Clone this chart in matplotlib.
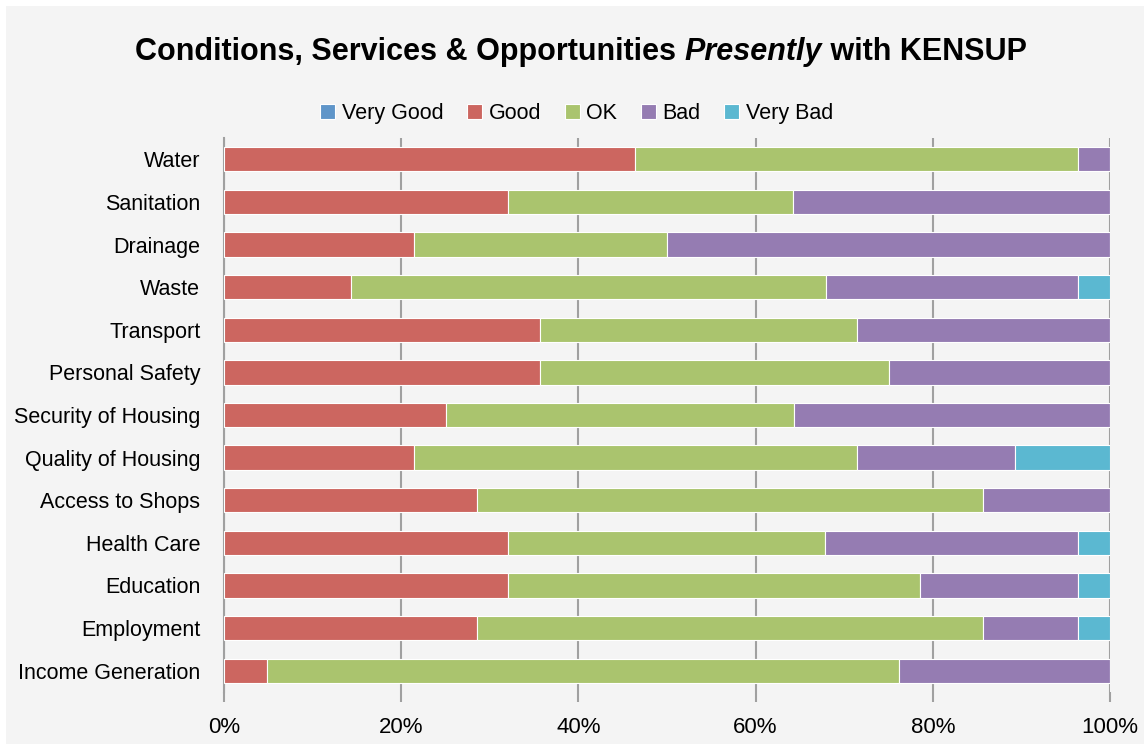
import matplotlib.pyplot as plt
from matplotlib.patches import Rectangle
import numpy as np

plt.rcParams['font.family'] = ['Liberation Sans Narrow', 'Liberation Sans', 'DejaVu Sans']

# Categories (top to bottom) and response shares in percent
categories = ["Water", "Sanitation", "Drainage", "Waste", "Transport", "Personal Safety",
              "Security of Housing", "Quality of Housing", "Access to Shops",
              "Health Care", "Education", "Employment", "Income Generation"]

very_good = [0, 0, 0, 0, 0, 0, 0, 0, 0, 0, 0, 0, 0]
good = [46.4, 32.1, 21.4, 14.3, 35.7, 35.7, 25.0, 21.4, 28.6, 32.1, 32.1, 28.6, 4.8]
ok = [50.0, 32.1, 28.6, 53.6, 35.7, 39.3, 39.3, 50.0, 57.1, 35.7, 46.4, 57.1, 71.4]
bad = [3.6, 35.8, 50.0, 28.5, 28.6, 25.0, 35.7, 17.9, 14.3, 28.6, 17.9, 10.7, 23.8]
very_bad = [0, 0, 0, 3.6, 0, 0, 0, 10.7, 0, 3.6, 3.6, 3.6, 0]

series = [("Very Good", very_good, "#5F95C9"),
          ("Good", good, "#CC6660"),
          ("OK", ok, "#AAC46E"),
          ("Bad", bad, "#957CB2"),
          ("Very Bad", very_bad, "#5BB8D1")]

bg = "#F4F4F4"
fig = plt.figure(figsize=(11.44, 7.44), dpi=100, facecolor="white")
# grey chart area with a thin white margin on the top and left
fig.patches.append(Rectangle((6 / 1144, 0), 1, 1 - 6 / 744, transform=fig.transFigure,
                             facecolor=bg, edgecolor="none", zorder=-10))
ax = fig.add_axes([0.1958, 0.0699, 0.7745, 0.7446], facecolor=bg)

y = np.arange(len(categories))
left = np.zeros(len(categories))
for name, vals, col in series:
    vals = np.array(vals, dtype=float)
    ax.barh(y, vals, left=left, height=0.57, color=col, edgecolor="white",
            linewidth=0.8, label=name, zorder=3)
    left += vals

ax.set_xlim(0, 100)
ax.set_ylim(len(categories) - 0.5, -0.5)
ax.set_yticks(y)
ax.set_yticklabels(categories, fontsize=15.5)
ax.set_xticks(np.arange(0, 101, 20))
ax.set_xticklabels([f"{v}%" for v in range(0, 101, 20)], fontsize=16)
ax.tick_params(axis="y", length=0, pad=17)
ax.tick_params(axis="x", length=7, color="#A0A0A0", width=1.5, pad=11)
ax.grid(axis="x", color="#A0A0A0", linewidth=1.5, zorder=0)
for s in ["top", "right", "bottom"]:
    ax.spines[s].set_visible(False)
ax.spines["left"].set_color("#A0A0A0")
ax.spines["left"].set_linewidth(1.5)

# Title with an italic word, built from three pieces centred as a group
fig.canvas.draw()
renderer = fig.canvas.get_renderer()
parts = [("Conditions, Services & Opportunities ", "normal"),
         ("Presently", "italic"),
         (" with KENSUP", "normal")]
texts = []
for txt, style in parts:
    t = fig.text(0, 0.930, txt, fontsize=22, fontweight="bold", style=style,
                 va="center", ha="left")
    texts.append(t)
widths = [t.get_window_extent(renderer).width for t in texts]
x0 = 135
for t, w in zip(texts, widths):
    t.set_x(x0 / fig.bbox.width)
    x0 += w

ax.legend(loc="center", bbox_to_anchor=(0.398, 1.044), ncol=5, frameon=False,
          fontsize=15.5, handlelength=0.7, handleheight=0.7, handletextpad=0.3,
          columnspacing=1.1, borderaxespad=0)

fig.savefig("out.png", dpi=100)
